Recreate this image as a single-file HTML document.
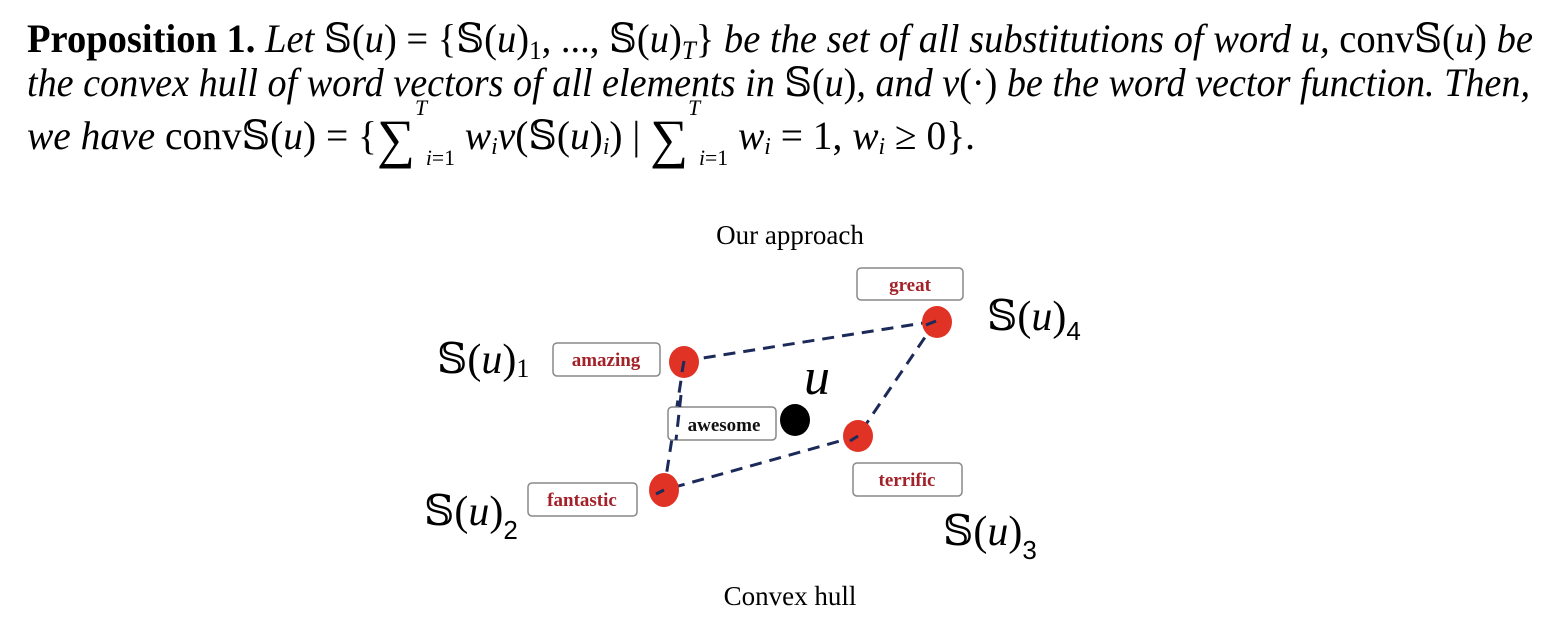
<!DOCTYPE html>
<html><head><meta charset="utf-8"><style>
html,body{margin:0;padding:0;background:#fff;width:1564px;height:632px;overflow:hidden}
svg{display:block}
text{font-family:"Liberation Serif","DejaVu Serif",serif}
.b{font-family:"Liberation Serif",serif;font-size:19px;font-weight:bold;fill:#a3222a}
</style></head><body>
<svg width="1564" height="632" xmlns="http://www.w3.org/2000/svg">
<text x="27" y="52" font-size="40" textLength="1506" lengthAdjust="spacingAndGlyphs"><tspan font-weight="bold">Proposition 1.</tspan><tspan font-style="italic"> Let </tspan>𝕊(<tspan font-style="italic">u</tspan>) = {𝕊(<tspan font-style="italic">u</tspan>)<tspan font-size="26" dy="7">1</tspan><tspan dy="-7">, ..., 𝕊(</tspan><tspan font-style="italic">u</tspan>)<tspan font-size="26" dy="7" font-style="italic">T</tspan><tspan dy="-7">}</tspan><tspan font-style="italic"> be the set of all substitutions of word u, </tspan>conv𝕊(<tspan font-style="italic">u</tspan>)<tspan font-style="italic"> be</tspan></text>
<text x="27" y="96" font-size="40" font-style="italic" textLength="1503" lengthAdjust="spacingAndGlyphs">the convex hull of word vectors of all elements in <tspan font-style="normal">𝕊(</tspan>u<tspan font-style="normal">)</tspan>, and v<tspan font-style="normal">(·)</tspan> be the word vector function. Then,</text>
<text x="27" y="149" font-size="40" textLength="948" lengthAdjust="spacingAndGlyphs"><tspan font-style="italic">we have </tspan>conv𝕊(<tspan font-style="italic">u</tspan>) = {<tspan font-size="54" dy="8">∑</tspan><tspan font-size="22" dy="-42" font-style="italic">T</tspan><tspan font-size="22" dy="50" font-style="italic">i</tspan><tspan font-size="22">=1</tspan><tspan dy="-16" font-style="italic"> w</tspan><tspan font-size="24" dy="5" font-style="italic">i</tspan><tspan dy="-5" font-style="italic">v</tspan>(𝕊(<tspan font-style="italic">u</tspan>)<tspan font-size="24" dy="5" font-style="italic">i</tspan><tspan dy="-5">) | </tspan><tspan font-size="54" dy="8">∑</tspan><tspan font-size="22" dy="-42" font-style="italic">T</tspan><tspan font-size="22" dy="50" font-style="italic">i</tspan><tspan font-size="22">=1</tspan><tspan dy="-16" font-style="italic"> w</tspan><tspan font-size="24" dy="5" font-style="italic">i</tspan><tspan dy="-5"> = 1, </tspan><tspan font-style="italic">w</tspan><tspan font-size="24" dy="5" font-style="italic">i</tspan><tspan dy="-5"> ≥ 0}.</tspan></text>

<text x="790" y="244" font-size="27" text-anchor="middle">Our approach</text>
<text x="790" y="605" font-size="27" text-anchor="middle">Convex hull</text>

<g fill="none" stroke="#1c2a5a" stroke-width="3" stroke-dasharray="12 8">
<path d="M684 361 L936 321"/>
<path d="M936 321 L858 436"/>
<path d="M858 436 L664 490"/>
<path d="M684 361 L664 490"/>
</g>
<g fill="#e03326">
<ellipse cx="684" cy="362" rx="15" ry="16"/>
<ellipse cx="937" cy="322" rx="15" ry="16"/>
<ellipse cx="858" cy="436" rx="15" ry="16"/>
<ellipse cx="664" cy="490" rx="15" ry="17"/>
</g>
<g stroke="#1c2a5a" stroke-width="3" fill="none">
<path d="M684 361 L682 372"/><path d="M936 321 L926 325"/><path d="M858 436 L850 441"/><path d="M664 490 L656 494"/>
</g>
<ellipse cx="795" cy="420" rx="15" ry="16" fill="#000"/>

<g fill="#fff" stroke="#888" stroke-width="1.5">
<rect x="857" y="268" width="106" height="32" rx="4"/>
<rect x="553" y="343" width="107" height="33" rx="4"/>
<rect x="668" y="407" width="108" height="33" rx="4"/>
<rect x="853" y="463" width="109" height="33" rx="4"/>
<rect x="528" y="483" width="109" height="33" rx="4"/>
</g>
<g stroke="#1c2a5a" stroke-width="3" stroke-dasharray="12 8"><path d="M681 395 L676 440"/></g>
<text class="b" x="910" y="291" text-anchor="middle">great</text>
<text class="b" x="606" y="366" text-anchor="middle">amazing</text>
<text class="b" x="724" y="431" text-anchor="middle" style="fill:#111">awesome</text>
<text class="b" x="907" y="486" text-anchor="middle">terrific</text>
<text class="b" x="582" y="506" text-anchor="middle">fantastic</text>

<text x="817" y="394" font-size="52" font-style="italic" text-anchor="middle">u</text>

<g font-size="42">
<text x="437" y="373">𝕊(<tspan font-style="italic">u</tspan>)<tspan font-size="26" dy="4">1</tspan></text>
<text x="987" y="330">𝕊(<tspan font-style="italic">u</tspan>)<tspan font-family="Liberation Sans,sans-serif" font-size="26" dy="10">4</tspan></text>
<text x="424" y="525">𝕊(<tspan font-style="italic">u</tspan>)<tspan font-family="Liberation Sans,sans-serif" font-size="26" dy="14">2</tspan></text>
<text x="943" y="545">𝕊(<tspan font-style="italic">u</tspan>)<tspan font-family="Liberation Sans,sans-serif" font-size="26" dy="14">3</tspan></text>
</g>
</svg>
</body></html>
